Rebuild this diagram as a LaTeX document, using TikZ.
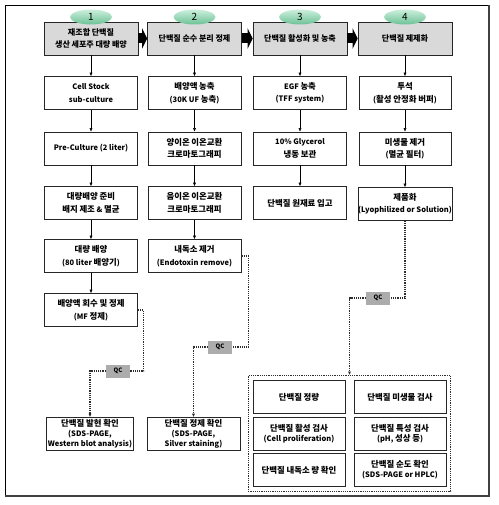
\documentclass[tikz,border=0pt]{standalone}
\usepackage{fontspec}
\setmainfont{Noto Sans CJK KR}
% Hangul a little larger than the Latin letters
\newfontfamily\hanfont{Noto Sans CJK KR}[Scale=1.12]
\newfontfamily\latfont{Noto Sans CJK KR}
\XeTeXinterchartokenstate=1
\newXeTeXintercharclass\hanclass
\newcount\hanc
\hanc="AC00
\loop\XeTeXcharclass\hanc=\hanclass\advance\hanc by 1 \ifnum\hanc<"D7A4 \repeat
\XeTeXinterchartoks 0 \hanclass = {\hanfont}
\XeTeXinterchartoks 4095 \hanclass = {\hanfont}
\XeTeXinterchartoks \hanclass 0 = {\latfont}
\XeTeXinterchartoks \hanclass 4095 = {\latfont}
\usetikzlibrary{positioning,shapes.geometric,arrows.meta,fit}
\definecolor{hdrgray}{RGB}{217,217,217}
\definecolor{qcgray}{RGB}{172,172,172}
\definecolor{mintlight}{RGB}{204,238,220}
\definecolor{mintdark}{RGB}{108,194,150}
\definecolor{dotgray}{RGB}{45,45,45}
\tikzset{
  txt/.style={font=\bfseries\fontsize{7.5}{12.5}\selectfont, align=center, inner sep=0pt},
  hdrbox/.style={txt, draw=black!85, line width=0.6pt, fill=hdrgray, minimum width=94pt, minimum height=33pt,
    font=\bfseries\fontsize{7.2}{11.5}\selectfont},
  stepbox/.style={txt, draw=black!85, line width=0.6pt, fill=white, minimum width=93pt, minimum height=33pt},
  chkbox/.style={stepbox, font=\bfseries\fontsize{7.5}{10}\selectfont},
  numoval/.style={ellipse, top color=mintlight, bottom color=mintdark, minimum width=42pt, minimum height=15pt,
    inner sep=0pt, font=\fontsize{10}{10}\selectfont},
  qcbox/.style={fill=qcgray, minimum width=24pt, minimum height=13pt, inner sep=0pt, font=\bfseries\fontsize{6}{6}\selectfont},
  flow/.style={-{Latex[length=3.5pt,width=3pt]}, line width=0.5pt},
  bigarrow/.style={-{Triangle[length=5pt,width=20pt]}, line width=10pt},
  qcline/.style={densely dotted, line width=1.2pt, draw=dotgray},
  qcarrow/.style={qcline, -{Latex[length=3.5pt,width=3pt]}},
}
\begin{document}
\begin{tikzpicture}[x=1pt,y=-1pt]
\useasboundingbox (0,0) rectangle (498,505);
% outer frame, heavier on the bottom and right
\draw[line width=0.6pt] (5,5) rectangle (489,496);
\draw[line width=2pt, black!75] (5,496) -- (489,496) -- (489,5);
% the four stages
\node[hdrbox] (h1) at (91,38.5) {재조합 단백질\\생산 세포주 대량 배양};
\node[hdrbox] (h2) at (194.5,38.5) {단백질 순수 분리 정제};
\node[hdrbox] (h3) at (300,38.5) {단백질 활성화 및 농축};
\node[hdrbox] (h4) at (405,38.5) {단백질 제제화};
\foreach \k in {1,...,4}
  \node[numoval, above=-3pt of h\k] (n\k) {\k};
\foreach \u/\v in {h1/h2,h2/h3,h3/h4}
  \draw[bigarrow] (\u) -- (\v);
% stage 1
\node[stepbox] (a1) at (91,93) {Cell Stock\\sub-culture};
\node[stepbox] (a2) at (91,148.5) {Pre-Culture (2 liter)};
\node[stepbox] (a3) at (91,203) {대량배양 준비\\배지 제조 \& 멸균};
\node[stepbox] (a4) at (91,256) {대량 배양\\(80 liter 배양기)};
\node[stepbox] (a5) at (91,310) {배양액 회수 및 정제\\(MF 정제)};
\node[chkbox, minimum width=87pt] (a6) at (90,434) {단백질 발현 확인\\(SDS-PAGE,\\Western blot analysis)};
% stage 2
\node[stepbox] (b1) at (194.5,93) {배양액 농축\\(30K UF 농축)};
\node[stepbox] (b2) at (194.5,148.5) {양이온 이온교환\\크로마토그래피};
\node[stepbox] (b3) at (194.5,203) {음이온 이온교환\\크로마토그래피};
\node[stepbox] (b4) at (194.5,256) {내독소 제거\\(Endotoxin remove)};
\node[chkbox] (b5) at (193.5,434) {단백질 정제 확인\\(SDS-PAGE,\\Silver staining)};
% stage 3
\node[stepbox] (c1) at (300,93) {EGF 농축\\(TFF system)};
\node[stepbox] (c2) at (300,148.5) {10\% Glycerol\\냉동 보관};
\node[stepbox] (c3) at (300,203) {단백질 원재료 입고};
% stage 4
\node[stepbox, minimum width=92pt] (d1) at (405,93) {투석\\(활성 안정화 버퍼)};
\node[stepbox, minimum width=92pt] (d2) at (405,148.5) {미생물 제거\\(멸균 필터)};
\node[stepbox, minimum width=92pt] (d3) at (405,204) {제품화\\(Lyophilized or Solution)};
\foreach \u/\v in {h1/a1,a1/a2,a2/a3,a3/a4,a4/a5,h2/b1,b1/b2,b2/b3,b3/b4,
    h3/c1,c1/c2,c2/c3,h4/d1,d1/d2,d2/d3}
  \draw[flow] (\u) -- (\v);
% final checks
\node[chkbox, minimum width=92pt] (e1) at (299,397) {단백질 정량};
\node[chkbox, minimum width=92pt] (e2) at (400,397) {단백질 미생물 검사};
\node[chkbox, minimum width=92pt] (e3) at (299,433.5) {단백질 활성 검사\\(Cell proliferation)};
\node[chkbox, minimum width=92pt] (e4) at (400,433.5) {단백질 특성 검사\\(pH, 성상 등)};
\node[chkbox, minimum width=92pt] (e5) at (299,470) {단백질 내독소 량 확인};
\node[chkbox, minimum width=92pt] (e6) at (400,470) {단백질 순도 확인\\(SDS-PAGE or HPLC)};
\node[qcline, fit=(e1)(e6), inner sep=4.5pt] (grp) {};
% QC routes
\node[qcbox] (q1) at (118,371) {QC};
\node[qcbox] (q2) at (220,347) {QC};
\node[qcbox] (q3) at (378,298) {QC};
\draw[qcline] (a5.east) -- ++(6,0) |- (q1.east);
\draw[qcarrow] (q1.west) -| (a6.north);
\draw[qcline] (b4.east) -- ++(7,0) |- (q2.east);
\draw[qcarrow] (q2.west) -| (b5.north);
\draw[qcline] (d3.south) |- (q3.east);
\draw[qcarrow] (q3.west) -| (grp.north);
\end{tikzpicture}
\end{document}
